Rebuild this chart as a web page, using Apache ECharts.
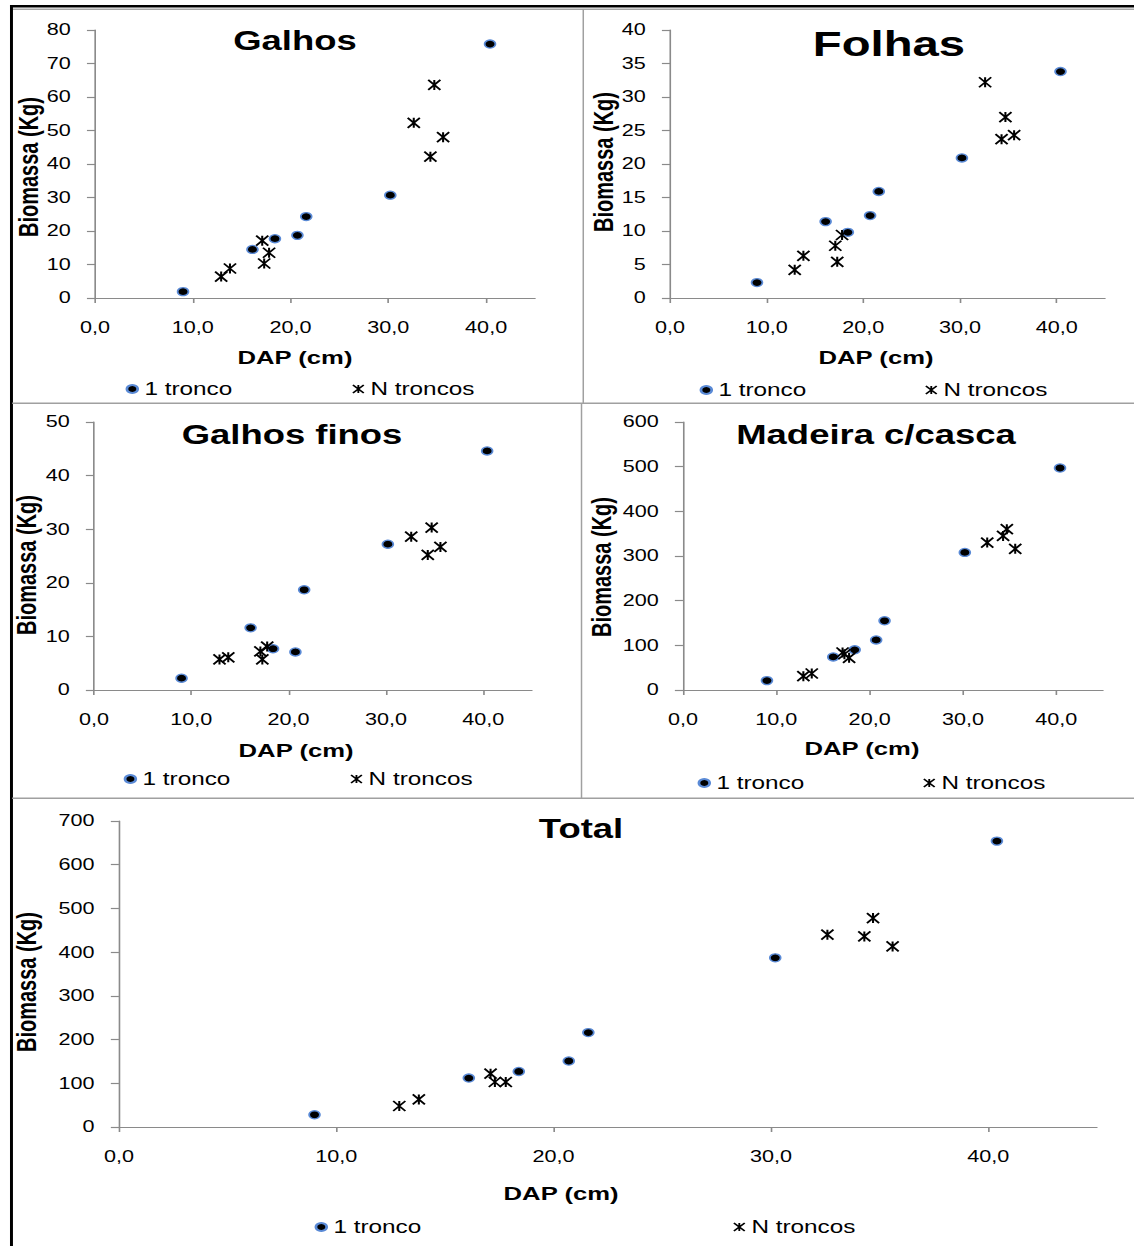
<!DOCTYPE html>
<html>
<head>
<meta charset="utf-8">
<title>Biomassa x DAP</title>
<script src="https://cdn.jsdelivr.net/npm/echarts@6/dist/echarts.min.js"></script>
<style>
    html, body { margin: 0; padding: 0; background: #fff; overflow: hidden; }
    /* the original picture is stretched horizontally, so the chart is drawn narrower and scaled */
    #main { width: 840px; height: 1246px; transform: scaleX(1.35); transform-origin: 0 0; }
</style>
</head>
<body>
<div id="main"></div>
<script>
// DAP (cm) das arvores
var dap1 = [9.0, 16.1, 18.4, 20.7, 21.6, 30.2, 40.4];                    // 1 tronco
var dapN = [12.9, 13.8, 17.1, 17.3, 17.8, 32.6, 34.3, 34.7, 35.6];        // N troncos

// biomassa (Kg) por compartimento
var galhos1 = [1.9, 14.5, 17.7, 18.7, 24.3, 30.7, 75.8];
var galhosN = [6.4, 8.8, 17.1, 10.3, 13.5, 52.3, 42.2, 63.6, 48.0];
var folhas1 = [2.3, 11.4, 9.8, 12.3, 15.9, 20.9, 33.8];
var folhasN = [4.2, 6.3, 7.8, 5.4, 9.4, 32.2, 23.7, 27.0, 24.3];
var finos1 = [2.2, 11.6, 7.7, 7.1, 18.7, 27.2, 44.6];
var finosN = [5.7, 6.1, 7.2, 5.7, 8.1, 28.6, 25.2, 30.3, 26.7];
var madeira1 = [21, 74, 90, 112, 155, 308, 497];
var madeiraN = [31, 37, 84, 80, 72, 330, 345, 360, 316];
var total1 = [28, 112, 127, 151, 216, 387, 654];
var totalN = [48, 63, 122, 103, 103, 440, 436, 478, 413];

var titles = ['Galhos', 'Folhas', 'Galhos finos', 'Madeira c/casca', 'Total'];
var yMax = [80, 40, 50, 600, 700];
var yStep = [10, 5, 10, 100, 100];
var xTicks = [0, 10, 20, 30, 40];
var seriesNames = ['1 tronco', 'N troncos'];

var font = "'Liberation Sans', Arial, sans-serif";
var starPath = 'path://M0,0L10,10M10,0L0,10M5,0L5,10';

// posicao de cada painel (coordenadas antes do scaleX)
var boxes = [
    {left: 70.4, top: 30, width: 325.9, height: 268, titleX: 218.5, titleY: 41, titleSize: 27, nameX: 218.5, nameY: 358, bioX: 20.7, bioY: 167, legL: 93, legT: 380, legGap: 88.7},
    {left: 496.3, top: 30, width: 322.2, height: 268, titleX: 658.5, titleY: 44, titleSize: 35, nameX: 648.9, nameY: 358, bioX: 446.7, bioY: 162, legL: 518.2, legT: 381, legGap: 87.9},
    {left: 69.6, top: 422, width: 324.4, height: 268, titleX: 216.3, titleY: 435, titleSize: 27, nameX: 219.3, nameY: 751, bioX: 19.3, bioY: 565, legL: 91.6, legT: 770, legGap: 88.7},
    {left: 505.9, top: 422, width: 311.1, height: 268, titleX: 648.9, titleY: 435, titleSize: 27, nameX: 638.5, nameY: 749, bioX: 445.2, bioY: 567, legL: 516.7, legT: 774, legGap: 87.9},
    {left: 88.1, top: 821, width: 724.4, height: 306, titleX: 430.4, titleY: 829, titleSize: 27, nameX: 415.6, nameY: 1194, bioX: 19.3, bioY: 982, legL: 233, legT: 1218, legGap: 230.9}
];

var values1 = [galhos1, folhas1, finos1, madeira1, total1];
var valuesN = [galhosN, folhasN, finosN, madeiraN, totalN];

function pairs(xs, ys) {
    return xs.map(function (x, i) { return [x, ys[i]]; });
}

var axisLineStyle = {color: '#8a8a8a', width: 1.2};

var grids = [], xAxes = [], yAxes = [], series = [], legends = [], graphics = [];

boxes.forEach(function (b, i) {
    grids.push({left: b.left, top: b.top, width: b.width, height: b.height, outerBoundsMode: 'none'});

    xAxes.push({
        type: 'value', gridIndex: i, min: 0, max: 45, interval: 10,
        axisLine: {show: true, lineStyle: axisLineStyle},
        axisTick: {show: true, length: 5, lineStyle: axisLineStyle, customValues: xTicks},
        axisLabel: {
            color: '#000', fontFamily: font, fontSize: 16, margin: 22,
            customValues: xTicks,
            formatter: function (v) { return v.toFixed(1).replace('.', ','); }
        },
        splitLine: {show: false}
    });

    yAxes.push({
        type: 'value', gridIndex: i, min: 0, max: yMax[i], interval: yStep[i],
        axisLine: {show: true, lineStyle: axisLineStyle},
        axisTick: {show: true, length: 6, lineStyle: axisLineStyle},
        axisLabel: {color: '#000', fontFamily: font, fontSize: 16, margin: 18},
        splitLine: {show: false}
    });

    series.push({
        name: seriesNames[0], type: 'scatter', xAxisIndex: i, yAxisIndex: i,
        symbol: 'circle', symbolSize: 8,
        itemStyle: {color: '#000', borderColor: '#5a8ad6', borderWidth: 1.3, opacity: 1},
        data: pairs(dap1, values1[i])
    });
    series.push({
        name: seriesNames[1], type: 'scatter', xAxisIndex: i, yAxisIndex: i,
        symbol: starPath, symbolSize: [9, 10],
        itemStyle: {color: '#000', borderColor: '#000', borderWidth: 1.6, opacity: 1},
        data: pairs(dapN, valuesN[i])
    });

    legends.push({
        left: b.legL, top: b.legT, itemGap: b.legGap, padding: 0,
        itemWidth: 8, itemHeight: 8, selectedMode: false,
        textStyle: {color: '#000', fontFamily: font, fontSize: 18},
        data: [
            {name: seriesNames[0], icon: 'circle'},
            {name: seriesNames[1], icon: starPath, itemStyle: {color: '#000', borderColor: '#000', borderWidth: 1.4}}
        ]
    });

    // titulo do painel
    graphics.push({
        type: 'text', x: b.titleX, y: b.titleY,
        style: {text: titles[i], fill: '#000', font: 'bold ' + b.titleSize + 'px ' + font, textAlign: 'center', textVerticalAlign: 'middle'}
    });
    // nomes dos eixos
    graphics.push({
        type: 'text', x: b.nameX, y: b.nameY,
        style: {text: 'DAP (cm)', fill: '#000', font: 'bold 19px ' + font, textAlign: 'center', textVerticalAlign: 'middle'}
    });
    graphics.push({
        type: 'text', x: b.bioX, y: b.bioY, rotation: Math.PI / 2,
        style: {text: 'Biomassa (Kg)', fill: '#000', font: 'bold 20px ' + font, textAlign: 'center', textVerticalAlign: 'middle'}
    });
});

// moldura e divisorias
var frame = [
    {x: 7.4, y: 5, width: 833, height: 2.5, fill: '#000'},
    {x: 9, y: 8.5, width: 831, height: 1.5, fill: '#a6a6a6'},
    {x: 7.4, y: 5, width: 2.2, height: 1241, fill: '#000'},
    {x: 431.5, y: 9, width: 1.1, height: 394, fill: '#a0a0a0'},
    {x: 430.2, y: 403, width: 1.1, height: 395, fill: '#a0a0a0'},
    {x: 9, y: 402.5, width: 831, height: 1.5, fill: '#a0a0a0'},
    {x: 9, y: 797.5, width: 831, height: 1.5, fill: '#a0a0a0'}
];
frame.forEach(function (r) {
    graphics.push({type: 'rect', shape: {x: r.x, y: r.y, width: r.width, height: r.height}, style: {fill: r.fill}, silent: true});
});

var chart = echarts.init(document.getElementById('main'), null, {renderer: 'svg'});
chart.setOption({
    backgroundColor: '#fff',
    animation: false,
    grid: grids,
    xAxis: xAxes,
    yAxis: yAxes,
    legend: legends,
    series: series,
    graphic: graphics
});
</script>
</body>
</html>
